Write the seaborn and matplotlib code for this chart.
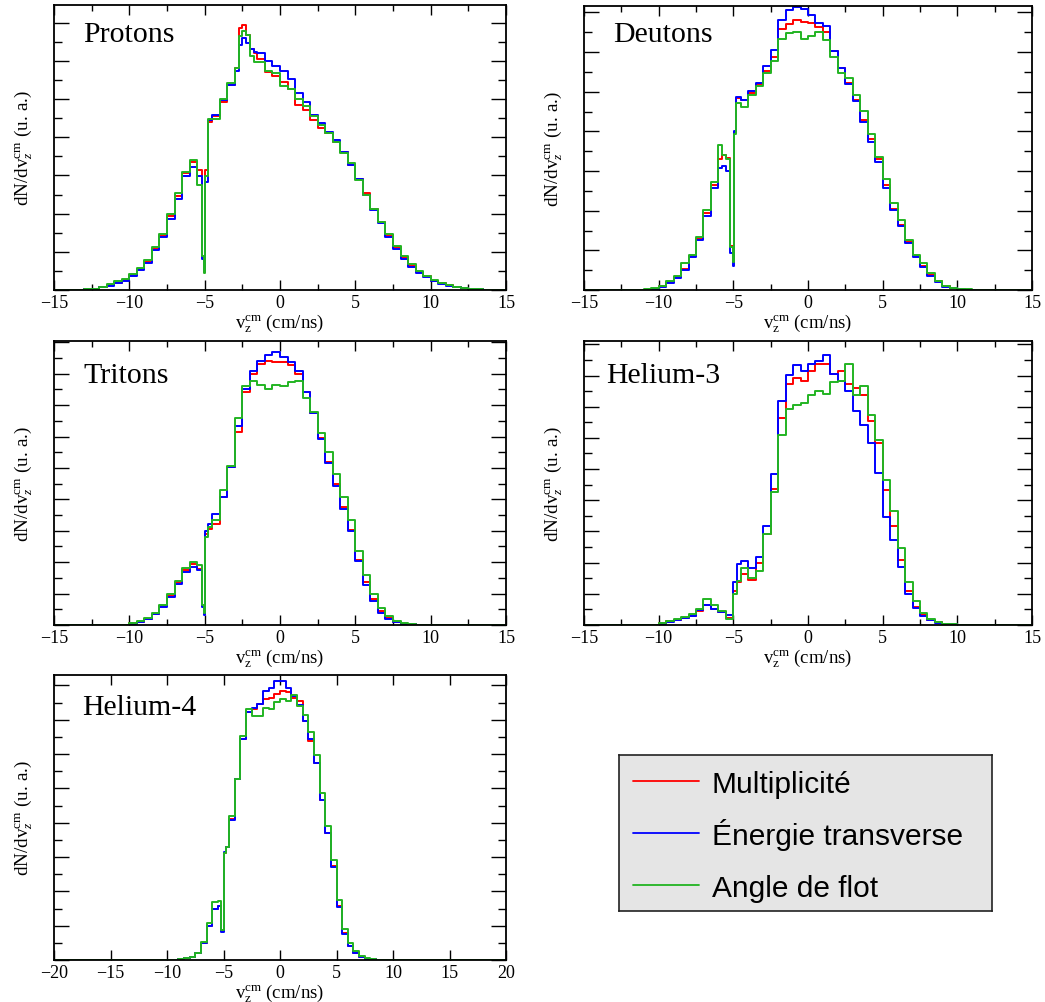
import numpy as np
import pandas as pd
from matplotlib import pyplot as plt
from matplotlib.ticker import MultipleLocator
import seaborn as sns

sns.set_theme(style='ticks')
plt.rcParams['font.family'] = ['Liberation Serif', 'DejaVu Serif']
plt.rcParams['text.color'] = 'black'
plt.rcParams['axes.labelcolor'] = 'black'
plt.rcParams['mathtext.fontset'] = 'custom'
plt.rcParams['mathtext.rm'] = 'Liberation Serif'
plt.rcParams['mathtext.it'] = 'Liberation Serif:italic'

methods = ['Multiplicité', 'Énergie transverse', 'Angle de flot']
colors = ['#ff0000', '#0000ff', '#22b422']

# dN/dv (arbitrary units, % of frame height), bins in cm/ns
proton_edges = np.r_[-15, np.arange(-13, -5.4, 0.5), -5.2, -5.05, -4.95, -4.8,
                     np.arange(-4.5, -2.9, 0.5), np.arange(-2.75, -1.4, 0.25),
                     np.arange(-1, 14.1, 0.5), 15]
proton_mult = [0, 0.2, 0.5, 0.9, 1.6, 2.5, 3.6, 5.2, 7.2, 10, 14.5, 19, 26, 33, 41, 45,
               42, 11.5, 6.2, 42, 59, 61, 66, 72, 78, 92, 93, 89.5, 84.5, 83,
               81, 76.5, 75, 73, 70.5, 65, 63, 59.5, 57, 55, 52, 48.5, 44, 39, 34,
               28.5, 24, 19, 15, 11.5, 8.5, 6.3, 4.8, 3.3, 2.3, 1.6, 1.0, 0.7, 0.4, 0.2, 0.1, 0]
proton_etrans = [0, 0.2, 0.5, 0.9, 1.4, 2.3, 3.3, 4.8, 7.0, 9.6, 14, 18.5, 25, 32, 40, 43,
                 40, 11, 6.5, 38, 59.5, 61.5, 66.5, 72, 77, 86, 88.5, 86.5, 84.5, 83.5,
                 83, 80.5, 78.5, 77, 74, 69, 66, 61.5, 58.5, 55.5, 52.5, 48.5, 44, 39, 33.5,
                 28, 23.5, 18.5, 14.5, 11, 8.2, 6.0, 4.5, 3.1, 2.1, 1.4, 0.9, 0.6, 0.4, 0.2, 0.1, 0]
proton_flot = [0, 0.2, 0.5, 0.9, 2.0, 3.0, 4.0, 5.5, 7.8, 10.5, 15, 19.5, 26.5, 34, 41.5, 45.5,
               37, 12, 6, 40, 60, 60, 67, 72.5, 78, 89, 91, 89.5, 82, 80,
               80, 77, 76, 71.5, 70.5, 67, 64.5, 61, 58, 55, 52, 48, 44.5, 38.5, 33.5,
               28.5, 24, 19.5, 15.5, 12, 9, 6.8, 5, 3.6, 2.5, 1.7, 1.1, 0.7, 0.4, 0.2, 0.1, 0]

deuton_edges = np.r_[-15, np.arange(-11, -5.9, 0.5), -5.75, -5.5, -5.2, -5.05, -4.95, -4.8, -4.5,
                     np.arange(-4, 11.6, 0.5), 15]
deuton_mult = [0, 0.1, 0.5, 1.3, 2.7, 4.5, 7.4, 12, 18, 27, 37,
               46, 47.5, 46.5, 15.5, 9.7, 55.5, 67.5, 67,
               69.5, 72.5, 77, 82, 92, 93.5, 95, 94.5, 94, 92.5, 91, 84, 78, 73, 67, 60,
               53, 46, 37, 28.5, 23, 17, 12, 8.6, 5.2, 3.0, 1.3, 0.7, 0.35, 0.15, 0.05, 0]
deuton_etrans = [0, 0.1, 0.5, 1.2, 2.5, 4.2, 7.0, 11.5, 17.5, 26, 36,
                 43, 43.5, 42, 13, 8.5, 56, 68, 67,
                 70, 73, 79, 84.5, 95, 98.5, 99.5, 99, 97, 94, 93, 84, 78, 72.5, 66.5, 59,
                 52, 45, 36, 28, 22.5, 16.5, 11.5, 8.2, 5.0, 2.8, 1.2, 0.6, 0.3, 0.15, 0.05, 0]
deuton_flot = [0, 0.2, 0.6, 1.5, 3.0, 5.0, 9.5, 12.5, 18.5, 28, 38,
               51, 47.5, 46, 15, 9.7, 55, 66, 64.5,
               68.5, 72, 76.5, 80.5, 88.5, 90.5, 91, 88.5, 89.5, 91, 88, 82, 76.5, 74.5, 68.5, 63,
               55, 47, 39, 30.5, 24.5, 17.5, 12.5, 9.5, 6.0, 3.2, 1.5, 0.8, 0.4, 0.2, 0.05, 0]

triton_edges = np.r_[-15, np.arange(-10, -5.4, 0.5), -5.2, -5.05, -4.95, -4.8,
                     np.arange(-4.5, 9.6, 0.5), 15]
triton_mult = [0, 0.6, 1.2, 2.1, 3.9, 6.8, 10.3, 15, 19.2, 21.5,
               19.7, 6.8, 3.9, 32, 33.8,
               35.6, 45, 55.5, 68, 82, 88.5, 92, 93, 92.5, 92.5, 91.5, 88.5, 82, 74.5,
               66, 57.5, 49.5, 41.5, 33.5, 23, 15, 9, 4.8, 2.3, 1.1, 0.5, 0.25, 0.1, 0]
triton_etrans = [0, 0.5, 1.1, 2.0, 3.7, 6.4, 9.8, 14.5, 18.8, 20.3,
                 19.5, 6.5, 3.5, 33, 35.6,
                 39, 45, 55.5, 70, 83, 89.5, 93, 95, 96, 94.5, 92.5, 89.5, 82, 74.5,
                 65.5, 57, 49, 41, 33, 22.5, 14, 8.5, 4.3, 2.0, 0.9, 0.4, 0.2, 0.1, 0]
triton_flot = [0, 0.7, 1.5, 2.3, 4.1, 7.2, 10.8, 15.5, 20.2, 22.3,
               21, 7, 4.2, 31, 34.4,
               36.8, 47.4, 56, 73, 84, 86, 84.5, 83, 84.5, 84, 85.5, 86, 80, 75,
               67.5, 61, 53, 45, 37, 26, 17.5, 11, 6, 3.0, 1.4, 0.6, 0.3, 0.1, 0]

he3_edges = np.r_[-15, np.arange(-10, -4.9, 0.5), -4.75, np.arange(-4.5, 10.6, 0.5), 15]
he3_mult = [0, 0.6, 1.3, 1.8, 2.5, 3.3, 5.0, 7, 5.5, 4.5, 2.5, 12, 15,
            18, 16, 22, 32, 48, 73, 85, 87, 86, 89.5, 92, 92, 88.5, 89.5, 85, 83.5, 81,
            72, 64, 47.5, 35, 23, 12, 6.5, 3.5, 1.8, 0.9, 0.4, 0.2, 0.1, 0]
he3_etrans = [0, 0.5, 1.2, 1.7, 2.4, 3.2, 5.2, 7, 5.5, 4.5, 3.5, 15, 21.5,
              22.5, 20, 24, 35, 53, 79, 88, 91.5, 89.5, 92, 93, 95, 88.5, 86, 82.5, 75.5, 70.5,
              64, 53.5, 38, 30, 20.5, 11, 6, 3.2, 1.6, 0.8, 0.4, 0.2, 0.1, 0]
he3_flot = [0, 0.7, 1.5, 2.0, 2.7, 3.8, 5.6, 9, 7, 5, 2, 11, 15.6,
            20, 16.5, 19, 32, 47, 67, 76, 77.5, 78, 81, 82.5, 81.5, 85.5, 86, 92, 81, 84,
            74, 65, 51, 40, 27, 15, 8.5, 4.2, 2.2, 1.0, 0.5, 0.2, 0.1, 0]

he4_edges = np.r_[-20, np.arange(-9, -5.4, 0.5), -5.2, -5.0, -4.8, np.arange(-4.5, 8.6, 0.5), 20]
he4_mult = [0, 0.2, 0.6, 1.2, 2.6, 6.1, 12, 18, 19, 10.2, 37.7, 39.5,
            49.4, 63.5, 77.5, 87, 88, 90, 91.5, 92, 93.5, 94.5, 94, 92, 91, 84, 77,
            69, 56, 44.5, 33, 19, 9.5, 5, 2.6, 1.1, 0.5, 0.2, 0]
he4_etrans = [0, 0.2, 0.6, 1.2, 2.6, 6.0, 11.8, 18, 19, 10, 38, 39.5,
              49, 63.5, 77.5, 87, 88.5, 90, 94.5, 95.5, 98, 98, 95.5, 92.5, 89.5, 84, 77.5,
              69, 56, 44.5, 32.5, 18.5, 9, 4.8, 2.5, 1.0, 0.5, 0.2, 0]
he4_flot = [0, 0.2, 0.6, 1.2, 2.6, 6.4, 13, 20.5, 20.7, 10.5, 37.5, 39.5,
            50.5, 63.5, 78.7, 88, 85.5, 85.5, 88.5, 88, 90.5, 91.5, 91, 93, 89, 86, 80,
            72, 58.5, 47, 35, 21, 11, 5.8, 3, 1.3, 0.6, 0.2, 0]

panels = [
    ('Protons', proton_edges, [proton_mult, proton_etrans, proton_flot]),
    ('Deutons', deuton_edges, [deuton_mult, deuton_etrans, deuton_flot]),
    ('Tritons', triton_edges, [triton_mult, triton_etrans, triton_flot]),
    ('Helium-3', he3_edges, [he3_mult, he3_etrans, he3_flot]),
    ('Helium-4', he4_edges, [he4_mult, he4_etrans, he4_flot]),
]

W, H = 1045, 1003
# frame boxes in pixels: left, top, right, bottom
boxes = [(54, 6, 506, 291), (584, 7, 1032, 291), (54, 342, 506, 626),
         (584, 342, 1032, 626), (54, 676, 506, 961)]
ysteps = [6.70, 6.98, 5.53, 5.49, 6.02]
title_pos = [(29, 36), (29, 35), (29, 41), (22, 41), (28, 39)]

fig = plt.figure(figsize=(W / 100, H / 100), dpi=100)

for (name, edges, series), (l, t, r, b), ystep, (tx, ty) in zip(panels, boxes, ysteps, title_pos):
    ax = fig.add_axes([l / W, (H - b) / H, (r - l) / W, (b - t) / H])
    centers = (edges[:-1] + edges[1:]) / 2
    for values, color in zip(series, colors):
        df = pd.DataFrame({'v': centers, 'w': values})
        sns.histplot(data=df, x='v', weights='w', bins=list(edges), element='step',
                     fill=False, color=color, linewidth=1.4, ax=ax)
    ax.set_xlim(edges[0], edges[-1])
    ax.set_ylim(0, 100)
    ax.xaxis.set_major_locator(MultipleLocator(5))
    if edges[-1] < 20:
        ax.xaxis.set_minor_locator(MultipleLocator(2.5))
    ax.yaxis.set_major_locator(MultipleLocator(2 * ystep))
    ax.yaxis.set_minor_locator(MultipleLocator(ystep))
    ax.tick_params(which='both', direction='in', top=True, right=True, colors='black',
                   width=1, labelsize=13, pad=3, labelleft=False)
    ax.tick_params(axis='y', which='major', length=11)
    ax.tick_params(axis='y', which='minor', length=5.5)
    ax.tick_params(axis='x', which='major', length=7)
    ax.tick_params(axis='x', which='minor', length=4)
    for sp in ax.spines.values():
        sp.set_color('black')
        sp.set_linewidth(1.3)
    ax.set_xlabel(r'v$_{\rm z}^{\rm cm}$ (cm/ns)', fontsize=13.5)
    ax.xaxis.set_label_coords(0.5, -0.074)
    ax.set_ylabel(r'dN/dv$_{z}^{\rm cm}$ (u. a.)', fontsize=13.8)
    ax.yaxis.set_label_coords(-0.045, 0.5)
    ax.text(tx / (r - l), 1 - ty / (b - t), name, transform=ax.transAxes,
            fontsize=21.5, va='baseline', ha='left')

# legend box drawn as its own small frame
lax = fig.add_axes([619 / W, (H - 912) / H, 373 / W, 156 / H])
lax.set_facecolor('#e5e5e5')
lax.set_xlim(0, 1)
lax.set_ylim(0, 1)
lax.set_xticks([])
lax.set_yticks([])
for sp in lax.spines.values():
    sp.set_color('#222222')
    sp.set_linewidth(1.2)
for i, (label, color) in enumerate(zip(methods, colors)):
    yl = 0.833 - i * 0.333
    lax.plot([0.0375, 0.214], [yl, yl], color=color, linewidth=1.3)
    lax.text(0.249, yl - 0.07, label, fontsize=21.5, family='Liberation Sans',
             va='baseline', ha='left')

fig.savefig('out.png', dpi=100, facecolor='white')
